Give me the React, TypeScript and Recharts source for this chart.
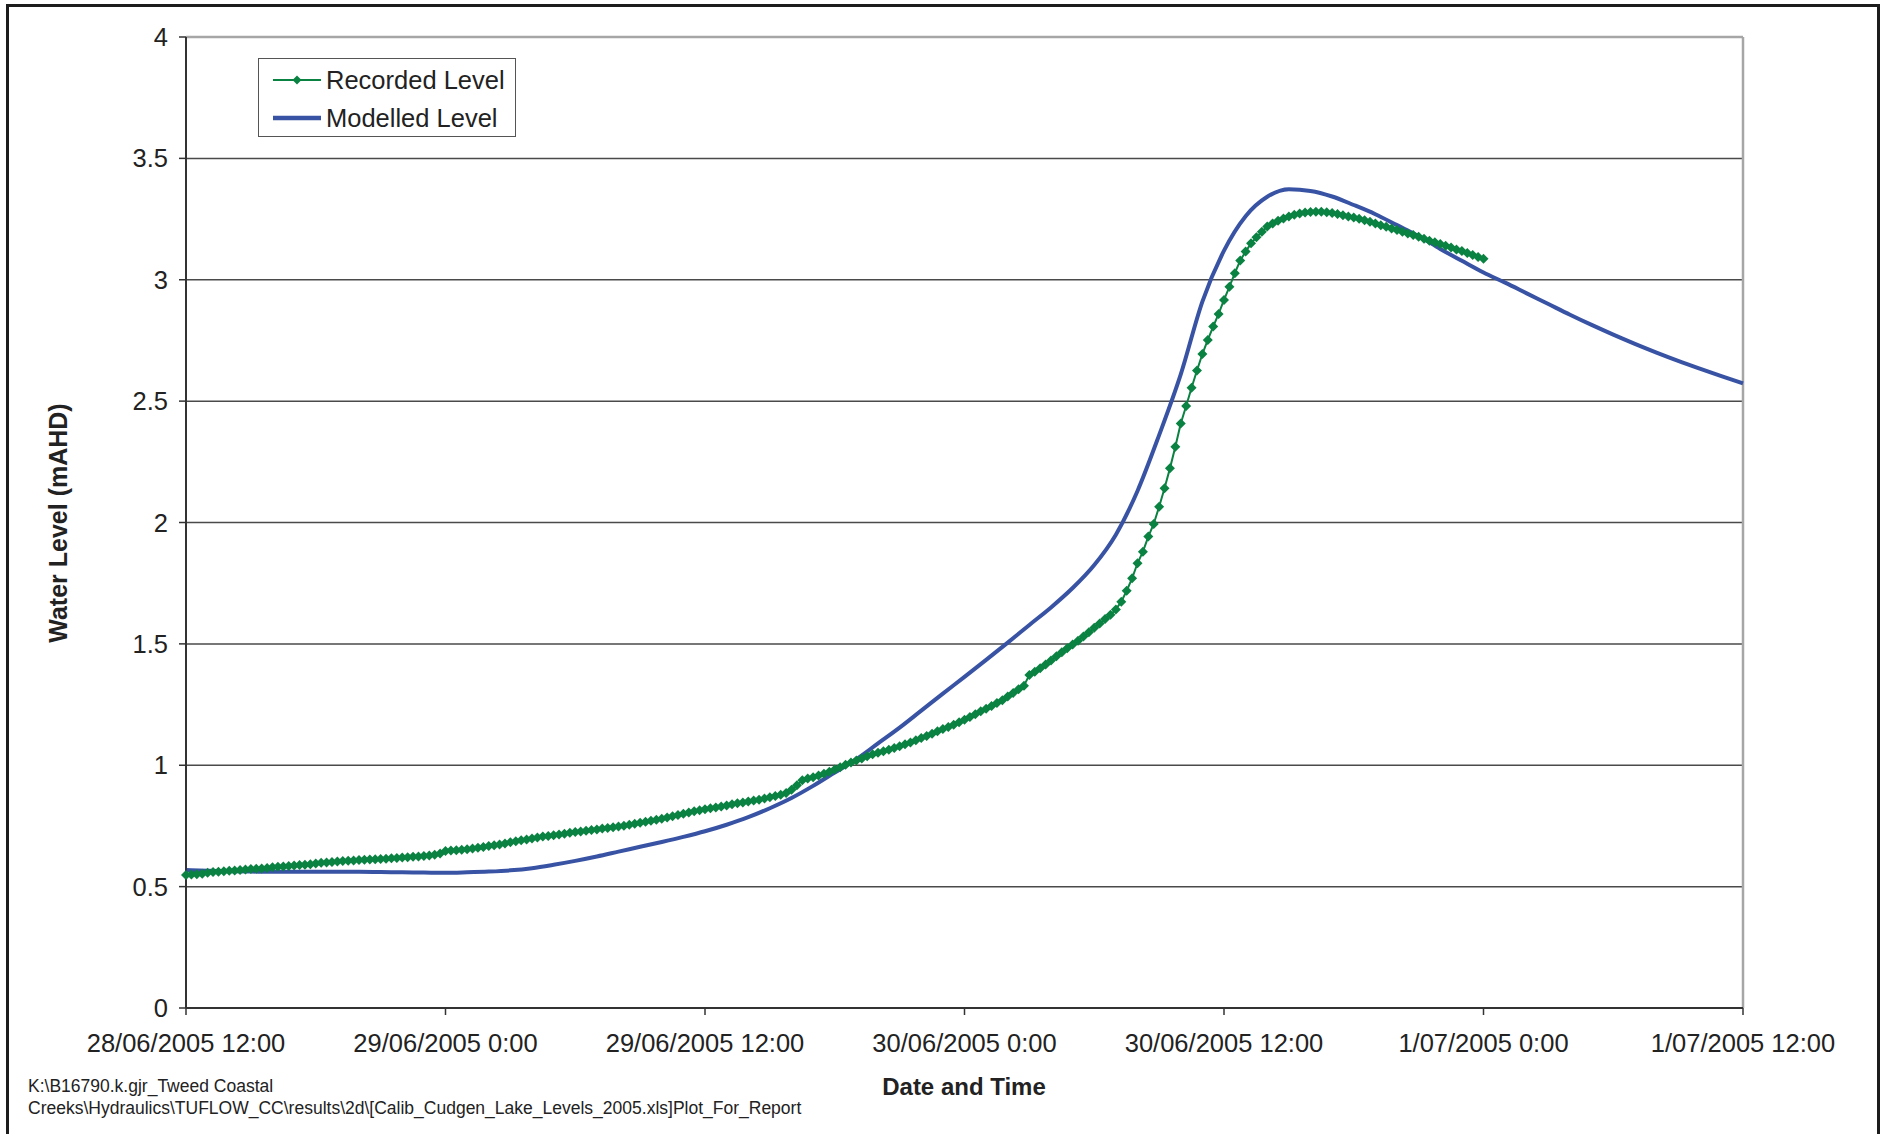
import React from "react";
import {
  LineChart,
  Line,
  XAxis,
  YAxis,
  CartesianGrid,
  ReferenceLine,
} from "recharts";

// time axis in hours from 28/06/2005 12:00
const xTicks = [0, 12, 24, 36, 48, 60, 72];
const xTickLabels = [
  "28/06/2005 12:00",
  "29/06/2005 0:00",
  "29/06/2005 12:00",
  "30/06/2005 0:00",
  "30/06/2005 12:00",
  "1/07/2005 0:00",
  "1/07/2005 12:00",
];
const yTicks = [0, 0.5, 1, 1.5, 2, 2.5, 3, 3.5, 4];
const yTickLabels = ["0", "0.5", "1", "1.5", "2", "2.5", "3", "3.5", "4"];

const recordedName = "Recorded Level";
const modelledName = "Modelled Level";

// recorded gauge, 15 minute readings, in 12 hour blocks
const recordedInterval = 0.25;
const recorded28Jun12 = [
  0.548, 0.55, 0.551, 0.553, 0.557, 0.56, 0.561, 0.563, 0.565, 0.566, 0.568, 0.571,
  0.573, 0.574, 0.575, 0.577, 0.58, 0.582, 0.583, 0.585, 0.587, 0.589, 0.59, 0.592,
  0.595, 0.598, 0.599, 0.601, 0.604, 0.606, 0.607, 0.608, 0.61, 0.611, 0.612, 0.613,
  0.614, 0.615, 0.617, 0.618, 0.62, 0.621, 0.623, 0.624, 0.626, 0.628, 0.631, 0.636,
];
const recorded29Jun00 = [
  0.647, 0.649, 0.65, 0.652, 0.654, 0.657, 0.66, 0.663, 0.667, 0.67, 0.674, 0.678,
  0.683, 0.687, 0.691, 0.694, 0.698, 0.702, 0.706, 0.709, 0.712, 0.715, 0.718, 0.722,
  0.725, 0.727, 0.73, 0.733, 0.735, 0.739, 0.742, 0.745, 0.748, 0.751, 0.755, 0.759,
  0.763, 0.767, 0.771, 0.776, 0.78, 0.785, 0.79, 0.795, 0.8, 0.805, 0.81, 0.815,
];
const recorded29Jun12 = [
  0.819, 0.823, 0.826, 0.83, 0.834, 0.839, 0.843, 0.847, 0.851, 0.855, 0.858, 0.863,
  0.868, 0.873, 0.878, 0.886, 0.899, 0.918, 0.938, 0.945, 0.951, 0.958, 0.965, 0.973,
  0.983, 0.992, 1.002, 1.011, 1.02, 1.028, 1.037, 1.045, 1.052, 1.058, 1.064, 1.071,
  1.078, 1.086, 1.094, 1.103, 1.112, 1.121, 1.13, 1.14, 1.149, 1.158, 1.167, 1.177,
];
const recorded30Jun00 = [
  1.187, 1.199, 1.21, 1.222, 1.233, 1.244, 1.256, 1.268, 1.283, 1.298, 1.313, 1.328,
  1.372, 1.385, 1.4, 1.415, 1.432, 1.449, 1.466, 1.482, 1.497, 1.513, 1.53, 1.548,
  1.566, 1.584, 1.602, 1.62, 1.642, 1.674, 1.719, 1.77, 1.832, 1.88, 1.942, 1.994,
  2.065, 2.141, 2.223, 2.312, 2.408, 2.48, 2.555, 2.626, 2.694, 2.752, 2.807, 2.859,
];
const recorded30Jun12 = [
  2.917, 2.971, 3.027, 3.079, 3.116, 3.15, 3.175, 3.198, 3.219, 3.232, 3.243, 3.252,
  3.261, 3.268, 3.273, 3.277, 3.279, 3.28, 3.28, 3.278, 3.275, 3.271, 3.266, 3.261,
  3.256, 3.251, 3.245, 3.239, 3.232, 3.225, 3.218, 3.211, 3.205, 3.198, 3.191, 3.184,
  3.177, 3.169, 3.161, 3.154, 3.147, 3.14, 3.133, 3.125, 3.118, 3.11, 3.102, 3.094,
  3.086,
];

// TUFLOW model output, hourly
const modelledLevel = [
  0.568, 0.565, 0.563, 0.562, 0.561, 0.561, 0.561, 0.561, 0.561, 0.56, 0.559, 0.558,
  0.557, 0.559, 0.562, 0.567, 0.576, 0.59, 0.606, 0.624, 0.644, 0.664, 0.684, 0.705,
  0.728, 0.755, 0.786, 0.823, 0.865, 0.915, 0.97, 1.025, 1.09, 1.155, 1.225, 1.295,
  1.364, 1.434, 1.505, 1.578, 1.65, 1.73, 1.825, 1.95, 2.13, 2.36, 2.61, 2.91,
  3.12, 3.262, 3.342, 3.373, 3.366, 3.343, 3.308, 3.27, 3.225, 3.18, 3.127, 3.078,
  3.03, 2.988, 2.944, 2.9, 2.856, 2.814, 2.774, 2.736, 2.7, 2.666, 2.634, 2.603,
  2.573,
];

const footnote = [
  "K:\\B16790.k.gjr_Tweed Coastal",
  "Creeks\\Hydraulics\\TUFLOW_CC\\results\\2d\\[Calib_Cudgen_Lake_Levels_2005.xls]Plot_For_Report",
];

const GREEN = "#0a8241";
const BLUE = "#3953a4";
const FONT = "'Liberation Sans', Arial, sans-serif";

const recordedData = [
  ...recorded28Jun12,
  ...recorded29Jun00,
  ...recorded29Jun12,
  ...recorded30Jun00,
  ...recorded30Jun12,
].map((v, i) => ({ t: i * recordedInterval, recorded: v }));

const modelledData = modelledLevel.map((v, i) => ({ t: i, modelled: v }));

function Diamond(props: any) {
  const { cx, cy, index } = props;
  if (cx == null || cy == null) return <g key={"d" + index} />;
  const r = 5;
  return (
    <path
      key={"d" + index}
      d={`M${cx},${cy - r}L${cx + r},${cy}L${cx},${cy + r}L${cx - r},${cy}Z`}
      fill={GREEN}
      stroke="none"
    />
  );
}

export default function App() {
  return (
    <div
      style={{
        position: "relative",
        width: 1885,
        height: 1134,
        overflow: "hidden",
        background: "#fff",
        fontFamily: FONT,
        color: "#222",
      }}
    >
      <style>{"body{margin:0;background:#fff}"}</style>
      <div
        style={{
          position: "absolute",
          left: 6,
          top: 4,
          width: 1868,
          height: 1140,
          border: "3px solid #1c1c1c",
        }}
      />
      <div style={{ position: "absolute", left: 0, top: 0 }}>
        <LineChart
          width={1885}
          height={1134}
          margin={{ top: 37, right: 142, bottom: 66, left: 0 }}
        >
          <CartesianGrid horizontal vertical={false} stroke="#4a4a4a" strokeWidth={1.5} />
          <XAxis
            type="number"
            dataKey="t"
            domain={[0, 72]}
            ticks={xTicks}
            interval={0}
            height={60}
            tickFormatter={(v: number) => xTickLabels[xTicks.indexOf(v)]}
            tick={{ fill: "#222", fontSize: 25.5, fontFamily: FONT }}
            tickSize={7}
            tickMargin={19}
            axisLine={{ stroke: "#333", strokeWidth: 2 }}
            tickLine={{ stroke: "#333", strokeWidth: 1.5 }}
            allowDuplicatedCategory={false}
          />
          <YAxis
            type="number"
            domain={[0, 4]}
            ticks={yTicks}
            interval={0}
            width={186}
            tickFormatter={(v: number) => yTickLabels[yTicks.indexOf(v)]}
            tick={{ fill: "#222", fontSize: 25.5, fontFamily: FONT }}
            tickSize={7}
            tickMargin={11}
            axisLine={{ stroke: "#333", strokeWidth: 2 }}
            tickLine={{ stroke: "#333", strokeWidth: 1.5 }}
          />
          <ReferenceLine y={4} stroke="#a6a6a6" strokeWidth={2.5} />
          <ReferenceLine x={72} stroke="#a6a6a6" strokeWidth={2.5} />
          <Line
            data={modelledData}
            dataKey="modelled"
            name={modelledName}
            type="monotone"
            stroke={BLUE}
            strokeWidth={4}
            dot={false}
            activeDot={false}
            isAnimationActive={false}
          />
          <Line
            data={recordedData}
            dataKey="recorded"
            name={recordedName}
            type="linear"
            stroke={GREEN}
            strokeWidth={2}
            dot={Diamond}
            activeDot={false}
            isAnimationActive={false}
          />
        </LineChart>
      </div>

      {/* legend */}
      <div
        style={{
          position: "absolute",
          left: 258,
          top: 58,
          width: 258,
          height: 79,
          border: "1.5px solid #555",
          background: "#fff",
          boxSizing: "border-box",
        }}
      >
        <svg width={60} height={79} style={{ position: "absolute", left: 12, top: 0 }}>
          <line x1={2} y1={21} x2={50} y2={21} stroke={GREEN} strokeWidth={2} />
          <path d="M26,16.5L30.5,21L26,25.5L21.5,21Z" fill={GREEN} />
          <line x1={2} y1={59} x2={50} y2={59} stroke={BLUE} strokeWidth={4.5} />
        </svg>
        <div style={{ position: "absolute", left: 67, top: 6, fontSize: 25.5, lineHeight: "30px" }}>
          {recordedName}
        </div>
        <div style={{ position: "absolute", left: 67, top: 44, fontSize: 25.5, lineHeight: "30px" }}>
          {modelledName}
        </div>
      </div>

      {/* axis titles */}
      <div
        style={{
          position: "absolute",
          left: 58,
          top: 523,
          transform: "translate(-50%, -50%) rotate(-90deg)",
          whiteSpace: "nowrap",
          fontWeight: "bold",
          fontSize: 25,
        }}
      >
        Water Level (mAHD)
      </div>
      <div
        style={{
          position: "absolute",
          left: 964,
          top: 1087,
          transform: "translate(-50%, -50%)",
          whiteSpace: "nowrap",
          fontWeight: "bold",
          fontSize: 24,
        }}
      >
        Date and Time
      </div>

      {/* file path note */}
      <div
        style={{
          position: "absolute",
          left: 28,
          top: 1075,
          fontSize: 17.5,
          lineHeight: "22px",
          whiteSpace: "nowrap",
        }}
      >
        {footnote.map((s) => (
          <div key={s}>{s}</div>
        ))}
      </div>
    </div>
  );
}
